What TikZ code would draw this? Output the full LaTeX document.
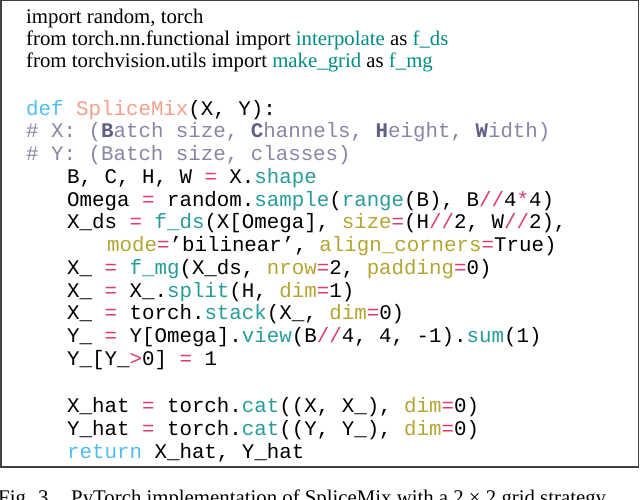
\documentclass[tikz,border=0pt]{standalone}
\usepackage{fontspec}
\setmainfont{Liberation Serif}
\setmonofont{Liberation Mono}
\definecolor{kw}{RGB}{80,190,240}
\definecolor{fn}{RGB}{242,160,140}
\definecolor{cm}{RGB}{135,135,165}
\definecolor{cmb}{RGB}{95,95,135}
\definecolor{op}{RGB}{220,60,110}
\definecolor{me}{RGB}{40,155,155}
\definecolor{ar}{RGB}{180,165,50}
\definecolor{tl}{RGB}{0,140,130}
\newcommand{\Op}[1]{\textcolor{op}{#1}}
\newcommand{\Me}[1]{\textcolor{me}{#1}}
\newcommand{\Ar}[1]{\textcolor{ar}{#1}}
\newcommand{\Bb}[1]{\textcolor{cmb}{\textbf{#1}}}
\tikzset{ln/.style={anchor=base west,inner sep=0pt,font=\fontsize{20.8}{22}\selectfont},
 code/.style={ln,font=\fontsize{20.8}{22}\selectfont\ttfamily}}
\begin{document}
\begin{tikzpicture}[x=1pt,y=-1pt]
\useasboundingbox (0,0) rectangle (640,499);
\draw[line width=1.3pt,draw=black!75] (1,0.5) rectangle (638.5,467);
\node[ln] (l1) at (26,23) {import random, torch};
\node[ln] (l2) at (26,45) {from torch.nn.functional import \textcolor{tl}{interpolate} as \textcolor{tl}{f\_ds}};
\node[ln] (l3) at (26,67) {from torchvision.utils import \textcolor{tl}{make\_grid} as \textcolor{tl}{f\_mg}};
\node[code] (l4) at (26,115) {\textcolor{kw}{def} \textcolor{fn}{SpliceMix}(X, Y):};
\node[code,text=cm] (l5) at (26,137) {\# X: (\Bb{B}atch size, \Bb{C}hannels, \Bb{H}eight, \Bb{W}idth)};
\node[code,text=cm] (l6) at (26,160) {\# Y: (Batch size, classes)};
\node[code] (l7) at (67,183) {B, C, H, W \Op{=} X.\Me{shape}};
\node[code] (l8) at (67,206) {Omega \Op{=} random.\Me{sample}(\Me{range}(B), B\Op{//}4\Op{*}4)};
\node[code] (l9) at (67,228) {X\_ds \Op{=} \Me{f\_ds}(X[Omega], \Ar{size}\Op{=}(H\Op{//}2, W\Op{//}2),};
\node[code] (l10) at (107,251) {\Ar{mode}\Op{=}’bilinear’, \Ar{align\_corners}\Op{=}True)};
\node[code] (l11) at (67,274) {X\_ \Op{=} \Me{f\_mg}(X\_ds, \Ar{nrow}\Op{=}2, \Ar{padding}\Op{=}0)};
\node[code] (l12) at (67,297) {X\_ \Op{=} X\_.\Me{split}(H, \Ar{dim}\Op{=}1)};
\node[code] (l13) at (67,319) {X\_ \Op{=} torch.\Me{stack}(X\_, \Ar{dim}\Op{=}0)};
\node[code] (l14) at (67,342) {Y\_ \Op{=} Y[Omega].\Me{view}(B\Op{//}4, 4, -1).\Me{sum}(1)};
\node[code] (l15) at (67,365) {Y\_[Y\_\Op{>}0] \Op{=} 1};
\node[code] (l16) at (67,412) {X\_hat \Op{=} torch.\Me{cat}((X, X\_), \Ar{dim}\Op{=}0)};
\node[code] (l17) at (67,435) {Y\_hat \Op{=} torch.\Me{cat}((Y, Y\_), \Ar{dim}\Op{=}0)};
\node[code] (l18) at (67,458) {\textcolor{kw}{return} X\_hat, Y\_hat};
\node[ln] (c1) at (-2,504) {Fig. 3.};
\node[ln] (c2) at (71,504) {PyTorch implementation of SpliceMix with a 2 × 2 grid strategy.};
\end{tikzpicture}
\end{document}
